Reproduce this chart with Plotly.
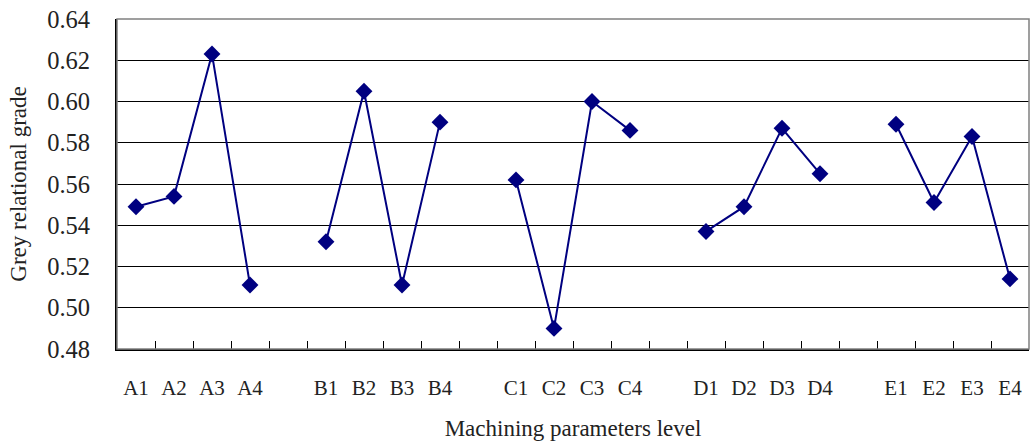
import plotly.graph_objects as go

# ---- data ----
groups = ["A", "B", "C", "D", "E"]
levels = ["1", "2", "3", "4"]
grade_A = [0.549, 0.554, 0.623, 0.511]
grade_B = [0.532, 0.605, 0.511, 0.590]
grade_C = [0.562, 0.490, 0.600, 0.586]
grade_D = [0.537, 0.549, 0.587, 0.565]
grade_E = [0.589, 0.551, 0.583, 0.514]
y_ticks = [0.48, 0.50, 0.52, 0.54, 0.56, 0.58, 0.60, 0.62, 0.64]

series = [grade_A, grade_B, grade_C, grade_D, grade_E]

# build categories with blank gap slots between groups
cats, vals = [], []
for gi, (g, s) in enumerate(zip(groups, series)):
    for lv, v in zip(levels, s):
        cats.append(g + lv)
        vals.append(v)
    if gi < len(groups) - 1:
        cats.append("\u200b" * (gi + 1))
        vals.append(None)

NAVY = "#000080"
FONT = "Liberation Serif"
TXT = "#222222"

fig = go.Figure()
fig.add_trace(go.Scatter(
    x=cats, y=vals, mode="lines+markers",
    line=dict(color=NAVY, width=2),
    marker=dict(symbol="diamond", size=13, color=NAVY),
    connectgaps=False, showlegend=False, hoverinfo="x+y",
))

fig.update_layout(
    width=1032, height=441,
    margin=dict(l=117, r=3, t=19, b=90),
    paper_bgcolor="white", plot_bgcolor="white",
    font=dict(family=FONT, color=TXT),
    shapes=[dict(type="rect", xref="paper", yref="paper", x0=0, x1=1, y0=0, y1=1,
                 line=dict(color="#808080", width=1.5), layer="above")],
)
fig.update_xaxes(
    type="category", categoryorder="array", categoryarray=cats,
    range=[-0.5, len(cats) - 0.5],
    tickson="boundaries", ticks="inside", ticklen=8, tickwidth=1, tickcolor="#000000",
    showgrid=False, showline=True, linecolor="#000000", linewidth=2, mirror=False,
    tickfont=dict(family=FONT, size=21, color=TXT),
    ticklabelstandoff=19,
    title=dict(text="Machining parameters level", font=dict(family=FONT, size=23, color=TXT), standoff=22),
    fixedrange=True,
)
fig.update_yaxes(
    range=[0.48, 0.64], tickvals=y_ticks, ticktext=[f"{t:.2f}" for t in y_ticks],
    showgrid=True, gridcolor="#000000", gridwidth=1,
    showline=True, linecolor="#000000", linewidth=2, zeroline=False,
    ticks="", tickfont=dict(family=FONT, size=24.5, color=TXT),
    ticklabelstandoff=20,
    title=dict(text="Grey relational grade", font=dict(family=FONT, size=23, color=TXT), standoff=14),
    fixedrange=True,
)

fig.write_html(
    "out.html",
    config={"displayModeBar": False},
    post_script="document.body.style.margin='0';document.body.style.overflow='hidden';",
)
